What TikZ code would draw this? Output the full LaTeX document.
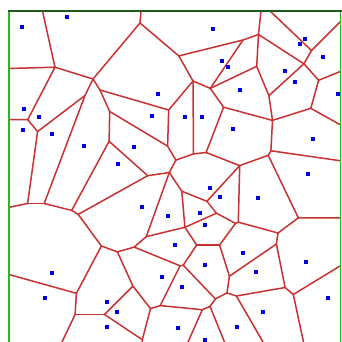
\documentclass[tikz,border=0pt]{standalone}
\usepackage{tikz}
\usetikzlibrary{calc}
\definecolor{CellRed}{HTML}{C83232}
\definecolor{SiteBlue}{HTML}{0000E6}
\definecolor{FrameGreen}{HTML}{2DB42D}
\definecolor{FrameDark}{HTML}{1E5A1E}

\begin{document}
\begin{tikzpicture}[x=0.5mm, y=-0.5mm,
  cellline/.style={CellRed, line width=0.75mm, line cap=round},
  site/.style={fill=SiteBlue, draw=none, inner sep=0pt, minimum size=2.1mm, rectangle}]
  \useasboundingbox (0,0) rectangle (342,342);
  \fill[white] (0,0) rectangle (342,342);
  % frame ends of the edges
  \coordinate (tA) at (42.5,11);  \coordinate (tE) at (141,11);
  \coordinate (tQ) at (261,11);   \coordinate (tV) at (270,11);
  \coordinate (lA) at (9,68.5);   \coordinate (lC) at (9,119.5);
  \coordinate (lH) at (9,207.3);  \coordinate (lZ) at (9,274.5);
  \coordinate (rV) at (340,22);   \coordinate (rW) at (340,71.6);
  \coordinate (rX) at (340,124.6); \coordinate (rAA) at (340,160.7);
  \coordinate (rAE) at (340,218); \coordinate (rAR) at (340,266);
  \coordinate (bBA) at (62,342);  \coordinate (bBL) at (142.5,342);
  \coordinate (bBI) at (188,342); \coordinate (bBH) at (224.5,342);
  \coordinate (bBJ) at (263,342); \coordinate (bAR) at (303.5,342);
  % inner vertices
  \coordinate (A) at (55,67.2);    \coordinate (B) at (93,79);
  \coordinate (C) at (27.7,119.7); \coordinate (D) at (37.6,131.6);
  \coordinate (G) at (85,95.5);    \coordinate (F) at (44.2,203.5);
  \coordinate (H) at (27.6,203.5); \coordinate (I) at (71.7,210.4);
  \coordinate (AX) at (78.2,214.4); \coordinate (AY) at (101.4,246);
  \coordinate (AZ) at (76.4,293.3); \coordinate (BA) at (75.1,314.5);
  \coordinate (BB) at (104.5,314.5); \coordinate (BL) at (142.3,339.7);
  \coordinate (BE) at (132.9,286.1); \coordinate (BD) at (117.4,251.9);
  \coordinate (AV) at (134.2,247.1); \coordinate (BC) at (146.3,236.6);
  \coordinate (BF) at (150.5,308.6); \coordinate (BG) at (160.2,305.6);
  \coordinate (AWa) at (180.1,265.8); \coordinate (AWb) at (183.2,265.2);
  \coordinate (BI) at (202.3,309.7); \coordinate (BHa) at (215.4,298.9);
  \coordinate (BHb) at (210,306.4);  \coordinate (AQ) at (227,292.9);
  \coordinate (BJ) at (236.4,296);   \coordinate (AP) at (285.1,287.5);
  \coordinate (AR) at (293.3,294.5); \coordinate (AU) at (229.4,276.2);
  \coordinate (AOa) at (278,233);    \coordinate (AOb) at (276.4,244);
  \coordinate (AE) at (298.3,217.8); \coordinate (AB) at (268.2,155.3);
  \coordinate (AA) at (270.9,150.8); \coordinate (AC) at (239.7,165.6);
  \coordinate (AD) at (238.3,222.2); \coordinate (ANb) at (235.5,223.4);
  \coordinate (AN) at (216.5,213.2); \coordinate (AL) at (206.9,201.3);
  \coordinate (AK) at (181.8,191.2); \coordinate (AM) at (184.9,227.3);
  \coordinate (AS) at (196.7,245);   \coordinate (AT) at (219.6,245);
  \coordinate (AJ) at (169.3,172.5); \coordinate (AI) at (147.7,175.7);
  \coordinate (J) at (109.1,141.3);  \coordinate (L) at (109.7,111.5);
  \coordinate (K) at (100,90);       \coordinate (AG) at (167.6,146.1);
  \coordinate (P) at (168.7,110);    \coordinate (AF) at (175.9,160.1);
  \coordinate (BK) at (193.5,153.9); \coordinate (AH) at (206.1,152.5);
  \coordinate (N) at (193,81);       \coordinate (M) at (178.8,55.9);
  \coordinate (E) at (140,23);       \coordinate (R) at (243,40);
  \coordinate (Q) at (258.5,34.5);   \coordinate (O) at (210.3,88.4);
  \coordinate (S) at (256.7,66.3);   \coordinate (T) at (268.9,95.7);
  \coordinate (U) at (303.9,63.8);   \coordinate (V) at (311.5,50.5);
  \coordinate (W) at (318.6,80.3);   \coordinate (X) at (310.8,108.3);
  \coordinate (Y) at (272.5,120.4);  \coordinate (Z) at (223.6,107.2);
  % cell edges
  \foreach \a/\b in {tA/A, lA/A, A/B, A/C, lC/C, C/D, D/G, G/B, G/F, D/H,
      lH/H, H/F, F/I, I/J, I/AX, AX/AI, AX/AY, AY/AZ, AY/BD, lZ/AZ, AZ/BA,
      BA/bBA, BA/BB, BB/BE, BB/BL, BL/bBL, BL/BF, BE/BD, BE/BF, BD/AV,
      AV/BC, AV/AWa, BC/AJ, BC/AM, BF/BG, BG/AWa, BG/BI, AWa/AWb, AWb/AS,
      AWb/BHa, BI/BHb, BI/bBI, BHa/BHb, BHb/bBH, BHa/AQ, AQ/AU, AQ/BJ,
      BJ/bBJ, BJ/AP, AP/AOb, AP/AR, AR/rAR, AR/bAR, AU/AT, AU/AOb,
      AOb/AOa, AOa/AE, AOa/AD, AE/rAE, AE/AB, AB/AA, AB/AC, AA/rAA, AA/Y,
      AC/AH, AC/AD, AC/AL, AD/ANb, ANb/AN, ANb/AT, AN/AL, AN/AM, AL/AK,
      AK/AJ, AK/AM, AM/AS, AS/AT, AJ/AI, AJ/AF, AI/J, J/L, L/K, L/AG, K/B,
      K/P, P/AG, P/N, AG/AF, AF/BK, BK/N, BK/AH, AH/Z, B/E, E/tE, E/M,
      M/R, M/N, N/O, O/R, O/S, O/Z, R/Q, Q/tQ, Q/U, Q/S, S/T, T/U, T/Y,
      U/V, U/W, V/tV, V/rV, W/rW, W/X, X/rX, X/Y, Y/Z}
    \draw[cellline] (\a) -- (\b);
  % sites
  \foreach \px/\py [count=\i] in {22/27, 67/17, 213/29, 305/39, 300/44,
      323/57, 222/61, 228/67, 285/71, 295/82, 240/90, 338/94, 158/94,
      24/109, 39/117, 23/130, 52/134, 152/116, 185/117, 202/117, 233/129,
      84/146, 134/147, 313/139, 118/164, 308/174, 210/188, 220/197,
      258/198, 142/207, 168/216, 200/213, 205/225, 175/245, 243/253,
      306/262, 205/265, 256/272, 52/273, 162/277, 182/287, 45/298,
      328/298, 107/302, 117/312, 263/312, 107/327, 178/328, 237/327,
      205/340}
    \node[site] (s\i) at (\px,\py) {};
  % frame
  \draw[FrameGreen, line width=1mm] (9,10) -- (9,342);
  \draw[FrameGreen, line width=0.8mm] (340.5,10) -- (340.5,342);
  \draw[FrameDark, line width=1mm] (8,11) -- (341.5,11);
\end{tikzpicture}
\end{document}
